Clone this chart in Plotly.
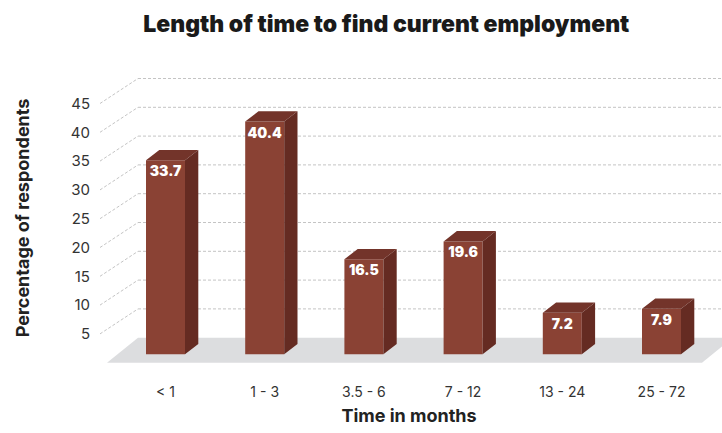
import plotly.graph_objects as go

# ---------------- data ----------------
categories = ["< 1", "1 - 3", "3.5 - 6", "7 - 12", "13 - 24", "25 - 72"]
values = [33.7, 40.4, 16.5, 19.6, 7.2, 7.9]
y_ticks = [5, 10, 15, 20, 25, 30, 35, 40, 45]

title_text = "Length of time to find current employment"
x_title = "Time in months"
y_title = "Percentage of respondents"

# ---------------- styling / geometry ----------------
FRONT = "#8A4234"
SIDE = "#652B22"
TOP = "#73342A"
FLOOR = "#DCDDDF"
GRID = "#C4C4C4"
TEXT = "#333333"

W, H = 722, 433
ML, MR, MT, MB = 96, 0, 60, 57
PX_X = 99.2          # pixels per category step
PX_Y = 5.76          # pixels per percentage point
X0_PX = 165.5        # pixel of first category centre
Y0_PX = 354.3        # pixel of bar baseline

BAR_W = 39 / PX_X
DDX = 13.3 / PX_X    # bar depth offset
DDY = 10.3 / PX_Y
FLOOR_FRONT = -8.4 / PX_Y
FLOOR_BACK = 16.6 / PX_Y
FLOOR_FL = (107 - X0_PX) / PX_X
FLOOR_BL = (138 - X0_PX) / PX_X
FLOOR_FR = (702 - X0_PX) / PX_X
FLOOR_BR = FLOOR_FR + 31 / PX_X
GRID_FX = (100 - X0_PX) / PX_X
GRID_BX = (138 - X0_PX) / PX_X

x_range = [(ML - X0_PX) / PX_X, (W - MR - X0_PX) / PX_X]
y_range = [(Y0_PX - (H - MB)) / PX_Y, (Y0_PX - MT) / PX_Y]

xs = list(range(len(categories)))

fig = go.Figure()

# front faces
fig.add_trace(go.Bar(
    x=xs, y=values, width=BAR_W, marker=dict(color=FRONT, line=dict(width=0)),
    hoverinfo="skip", showlegend=False,
))

# top faces and side faces (derived from values)
top_x, top_y, side_x, side_y = [], [], [], []
for x, v in zip(xs, values):
    l, r = x - BAR_W / 2, x + BAR_W / 2
    top_x += [l, r, r + DDX, l + DDX, l, None]
    top_y += [v, v, v + DDY, v + DDY, v, None]
    side_x += [r, r + DDX, r + DDX, r, r, None]
    side_y += [0, DDY, v + DDY, v, 0, None]

fig.add_trace(go.Scatter(x=top_x, y=top_y, mode="lines", fill="toself",
                         fillcolor=TOP, line=dict(width=0, color=TOP),
                         hoverinfo="skip", showlegend=False))
fig.add_trace(go.Scatter(x=side_x, y=side_y, mode="lines", fill="toself",
                         fillcolor=SIDE, line=dict(width=0, color=SIDE),
                         hoverinfo="skip", showlegend=False))

# value labels
fig.add_trace(go.Scatter(
    x=xs, y=[v - 12.5 / PX_Y for v in values], mode="text",
    text=[f"{v:.1f}" for v in values],
    textfont=dict(family="Inter", size=14, color="white", weight=900),
    hoverinfo="skip", showlegend=False,
))

# floor and gridlines as background shapes
shapes = [dict(
    type="path", xref="x", yref="y", layer="below",
    path=(f"M{FLOOR_FL},{FLOOR_FRONT} L{FLOOR_BL},{FLOOR_BACK} "
          f"L{FLOOR_BR},{FLOOR_BACK} L{FLOOR_FR},{FLOOR_FRONT} Z"),
    fillcolor=FLOOR, line=dict(width=0),
)]
for t in y_ticks:
    shapes.append(dict(type="line", xref="x", yref="y", layer="below",
                       x0=GRID_FX, y0=t + FLOOR_FRONT, x1=GRID_BX, y1=t + FLOOR_BACK,
                       line=dict(color=GRID, width=1, dash="3px,2px")))
    shapes.append(dict(type="line", xref="x", yref="y", layer="below",
                       x0=GRID_BX, y0=t + FLOOR_BACK, x1=x_range[1], y1=t + FLOOR_BACK,
                       line=dict(color=GRID, width=1, dash="3px,2px")))

fig.update_layout(
    width=W, height=H,
    margin=dict(l=ML, r=MR, t=MT, b=MB),
    paper_bgcolor="white", plot_bgcolor="white",
    shapes=shapes,
    title=dict(text=title_text, x=0.535, xanchor="center", y=0.945, yanchor="middle",
               font=dict(family="Inter", size=23, color="#1A1A1A", weight=900)),
    xaxis=dict(range=x_range, tickvals=xs, ticktext=categories, showgrid=False,
               zeroline=False, showline=False, ticks="", ticklabelstandoff=6,
               tickfont=dict(family="Inter", size=14, color=TEXT),
               title=dict(text=x_title, standoff=10,
                          font=dict(family="Inter", size=18, color="#222222", weight=700))),
    yaxis=dict(range=y_range, tickvals=[t + FLOOR_FRONT for t in y_ticks],
               ticktext=[str(t) for t in y_ticks], showgrid=False, zeroline=False,
               showline=False, ticks="", ticklabelstandoff=5,
               tickfont=dict(family="Inter", size=15, color=TEXT),
               title=dict(text=y_title, standoff=36,
                          font=dict(family="Inter", size=18, color="#222222", weight=700))),
)

fig.write_html("out.html", config={"displayModeBar": False},
               post_script="document.body.style.margin='0';")
